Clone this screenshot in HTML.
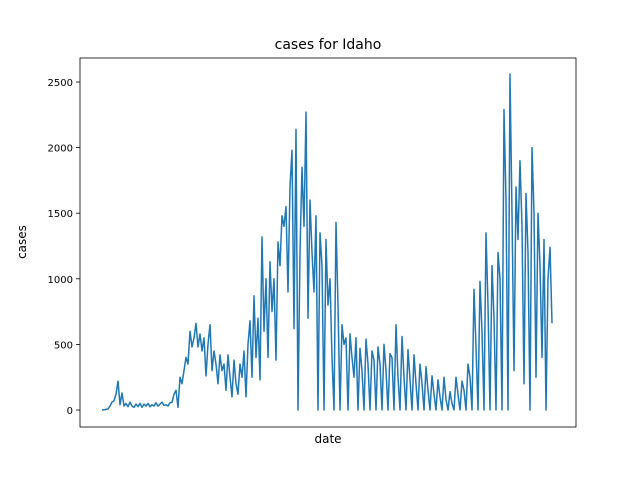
<!DOCTYPE html>
<html><head><meta charset="utf-8"><style>
body{margin:0;background:#fff;}
svg{display:block;font-family:"DejaVu Sans","Liberation Sans",sans-serif;}
</style></head><body>
<svg id="chart" width="640" height="480" viewBox="0 0 640 480" xmlns="http://www.w3.org/2000/svg">
<rect width="640" height="480" fill="#fff"/>
<text x="328" y="49" font-size="14" text-anchor="middle">cases for Idaho</text>
<text x="328" y="443" font-size="12" text-anchor="middle">date</text>
<text transform="translate(26,242) rotate(-90)" font-size="12" text-anchor="middle">cases</text>
<g id="yaxis"></g>
<path id="line" fill="none" stroke="#1f77b4" stroke-width="1.5" stroke-linejoin="round"/>
<rect x="80" y="58" width="496" height="369" fill="none" stroke="#000" stroke-width="0.8"/>
</svg>
<script>
const yTicks = [0, 500, 1000, 1500, 2000, 2500];
const cases = [0,2,5,8,30,60,70,120,220,40,130,30,50,25,60,30,20,45,25,50,20,45,30,50,25,40,30,55,30,45,60,35,40,30,55,60,120,150,20,250,200,300,400,350,600,480,550,660,480,580,450,550,260,500,650,300,450,350,200,420,300,350,150,420,250,100,380,200,120,350,250,450,100,500,680,250,870,400,700,230,1320,600,1000,400,1130,750,1000,380,1280,1100,1480,1400,1550,900,1700,1980,620,2140,0,1200,1850,1400,2270,700,1600,1200,900,1480,0,1350,1100,0,1300,800,1000,400,0,1430,800,0,650,500,550,0,580,400,250,550,0,470,300,0,540,350,0,450,380,0,480,350,0,500,300,0,430,400,0,650,250,0,560,250,0,460,230,0,420,200,0,350,200,0,330,150,0,260,120,0,230,100,0,250,80,0,140,50,0,250,120,0,220,150,0,350,250,0,920,480,0,980,600,0,1350,800,0,1100,700,0,1200,1000,0,2290,1600,0,2560,1500,300,1700,1300,1900,1400,200,1650,1200,0,2000,1500,250,1500,1100,400,1300,0,1000,1240,660];
const svgNS = "http://www.w3.org/2000/svg";
function yScale(v){ return 410 - v * (328/2500); }
function xScale(i){ return 102 + i * (450/(cases.length-1)); }
const yaxis = document.getElementById('yaxis');
yTicks.forEach(t => {
  const y = yScale(t);
  const tick = document.createElementNS(svgNS,'line');
  
  
  tick.setAttribute('x1',76); tick.setAttribute('x2',80);
  tick.setAttribute('y1',y); tick.setAttribute('y2',y);
  tick.setAttribute('stroke','#000'); tick.setAttribute('stroke-width','0.8');
  yaxis.appendChild(tick);
  const lab = document.createElementNS(svgNS,'text');
  
  
  lab.setAttribute('x',73); lab.setAttribute('y',y+4);
  lab.setAttribute('font-size','10'); lab.setAttribute('text-anchor','end');
  lab.textContent = t;
  yaxis.appendChild(lab);
});
let d = '';
cases.forEach((v,i) => { d += (i ? 'L' : 'M') + xScale(i).toFixed(2) + ',' + yScale(v).toFixed(2); });
document.getElementById('line').setAttribute('d', d);
</script>
</body></html>
